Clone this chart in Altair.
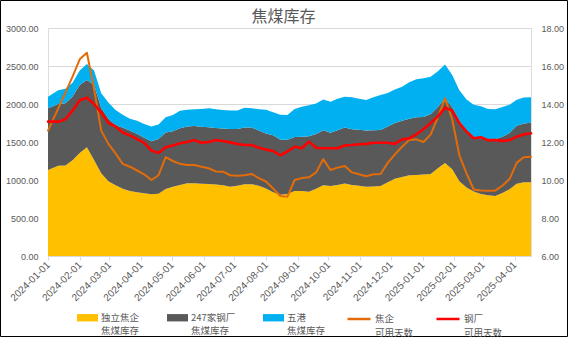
import altair as alt
import pandas as pd

# weekly dates (first point on the axis start, then weekly Thursdays)
dates = ["2024-01-01"] + [d.strftime("%Y-%m-%d") for d in pd.date_range("2024-01-11", "2025-04-17", freq="7D")]

# 独立焦企焦煤库存 (万吨)
coke_inv = [1132, 1188, 1190, 1260, 1355, 1430, 1263, 1090, 985, 930,
            885, 855, 838, 825, 812, 820, 880, 912, 934, 956,
            956, 950, 947, 940, 930, 912, 925, 945, 945, 925,
            888, 840, 805, 815, 855, 855, 846, 885, 930, 921,
            935, 955, 935, 925, 912, 915, 921, 970, 1015, 1040,
            1062, 1066, 1072, 1079, 1155, 1225, 1140, 985, 900, 850,
            815, 800, 790, 830, 878, 950, 970, 972]
# 247家钢厂焦煤库存
steel_inv = [811, 812, 819, 840, 895, 886, 987, 860, 825, 790,
             805, 795, 770, 730, 698, 720, 745, 728, 746, 749,
             755, 750, 746, 745, 748, 758, 745, 745, 745, 725,
             724, 750, 725, 715, 710, 715, 729, 720, 725, 702,
             720, 735, 733, 735, 740, 741, 737, 735, 735, 740,
             743, 759, 758, 791, 805, 845, 820, 795, 740, 720,
             730, 735, 750, 740, 742, 765, 775, 780]
# 五港焦煤库存
port_inv = [153, 180, 191, 180, 190, 209, 190, 190, 210, 200,
            170, 155, 172, 183, 195, 190, 200, 215, 230, 220,
            219, 235, 250, 245, 242, 245, 245, 260, 255, 280,
            313, 300, 330, 325, 370, 395, 410, 400, 403, 407,
            413, 405, 422, 410, 401, 434, 462, 440, 440, 448,
            480, 500, 510, 490, 470, 450, 420, 400, 420, 420,
            425, 400, 392, 390, 370, 340, 340, 338]
# 焦企可用天数
coke_days = [12.6, 13.77, 14.6, 15.44, 16.35, 16.7, 14.8, 12.6, 11.9, 11.4,
             10.85, 10.7, 10.5, 10.3, 10.0, 10.25, 11.2, 11.0, 10.85, 10.79,
             10.79, 10.7, 10.62, 10.45, 10.44, 10.25, 10.23, 10.25, 10.32, 10.1,
             9.92, 9.55, 9.16, 9.12, 10.0, 10.1, 10.14, 10.4, 11.1, 10.53,
             10.65, 10.74, 10.4, 10.3, 10.2, 10.3, 10.32, 10.9, 11.35, 11.75,
             12.1, 12.14, 12.0, 12.4, 13.3, 14.3, 13.2, 11.3, 10.35, 9.5,
             9.45, 9.44, 9.44, 9.7, 10.05, 10.9, 11.2, 11.22]
# 钢厂可用天数
steel_days = [13.07, 13.07, 13.2, 13.65, 14.2, 14.33, 14.0, 13.55, 13.0, 12.82,
              12.5, 12.35, 12.15, 11.95, 11.55, 11.42, 11.72, 11.82, 11.93, 12.0,
              12.1, 11.96, 12.0, 12.1, 12.05, 11.98, 11.9, 11.84, 11.84, 11.7,
              11.6, 11.53, 11.3, 11.5, 11.75, 11.67, 12.02, 11.7, 11.67, 11.67,
              11.67, 11.82, 11.84, 11.88, 11.9, 11.96, 11.96, 11.96, 11.9, 12.14,
              12.19, 12.4, 12.68, 13.0, 13.35, 13.8, 13.65, 13.0, 12.55, 12.2,
              12.25, 12.1, 12.1, 12.06, 12.1, 12.28, 12.4, 12.46]

area_names = ["独立焦企 焦煤库存", "247家钢厂 焦煤库存", "五港 焦煤库存"]
area_colors = ["#FFC000", "#595959", "#00B0F0"]
line_names = ["焦企 可用天数", "钢厂 可用天数"]
line_colors = ["#E36C09", "#FF0000"]

left_ticks = [0, 500, 1000, 1500, 2000, 2500, 3000]
right_ticks = [6, 8, 10, 12, 14, 16, 18]
month_ticks = [d.strftime("%Y-%m-%d") for d in pd.date_range("2024-01-01", "2025-04-01", freq="MS")]

def ms(s):
    return int(pd.Timestamp(s).value // 10**6)

area_rows = []
for i, name in enumerate(area_names):
    vals = [coke_inv, steel_inv, port_inv][i]
    for d, v in zip(dates, vals):
        area_rows.append({"date": d, "series": name, "value": v, "ord": i})
area_df = pd.DataFrame(area_rows)

line_rows = []
for i, name in enumerate(line_names):
    vals = [coke_days, steel_days][i]
    for d, v in zip(dates, vals):
        line_rows.append({"date": d, "series": name, "value": v, "ord": i})
line_df = pd.DataFrame(line_rows)

GREY = "#595959"
LABEL_FONT = "Liberation Sans"
CJK = "Noto Sans CJK SC"

xscale = alt.Scale(type="utc", domain=[ms(dates[0]), ms(dates[-1])])

def xaxis():
    return alt.Axis(values=[ms(t) for t in month_ticks], title=None)

area = alt.Chart(area_df).mark_area(opacity=1).encode(
    x=alt.X("date:T", scale=xscale, axis=xaxis()),
    y=alt.Y("value:Q", stack="zero", scale=alt.Scale(domain=[0, 3000], nice=False),
            axis=alt.Axis(values=left_ticks, format=".2f", grid=True, gridColor="#D9D9D9",
                          domain=False, ticks=False, labelPadding=10, labelFontSize=9,
                          labelFont=LABEL_FONT, labelColor=GREY, title=None)),
    fill=alt.Fill("series:N", scale=alt.Scale(domain=area_names, range=area_colors),
                  legend=alt.Legend(title=None, orient="none", legendX=29, legendY=279,
                                    direction="horizontal",
                                    symbolType="M-1,-0.35L1,-0.35L1,0.35L-1,0.35Z",
                                    symbolSize=441, symbolStrokeWidth=0,
                                    labelExpr="split(datum.label, ' ')",
                                    labelFontSize=9.5, labelFont=CJK, labelColor=GREY,
                                    labelOffset=3, columnPadding=27, labelLimit=200)),
    order=alt.Order("ord:Q"),
)

lines = alt.Chart(line_df).mark_line(strokeCap="round", strokeJoin="round").encode(
    x=alt.X("date:T", scale=xscale, axis=xaxis()),
    y=alt.Y("value:Q", scale=alt.Scale(domain=[6, 18], nice=False),
            axis=alt.Axis(orient="right", values=right_ticks, format=".2f", grid=False,
                          domain=False, ticks=False, labelPadding=10, labelFontSize=9,
                          labelFont=LABEL_FONT, labelColor=GREY, title=None)),
    stroke=alt.Stroke("series:N", scale=alt.Scale(domain=line_names, range=line_colors),
                      legend=alt.Legend(title=None, orient="none", legendX=298, legendY=278,
                                        direction="horizontal", symbolType="stroke",
                                        symbolSize=529, symbolStrokeWidth=2.5,
                                        labelExpr="split(datum.label, ' ')",
                                        labelFontSize=9.5, labelFont=CJK, labelColor=GREY,
                                        labelOffset=3, columnPadding=17, labelLimit=200)),
    strokeWidth=alt.StrokeWidth("series:N", scale=alt.Scale(domain=line_names, range=[2, 2.6]),
                                legend=None),
    order=alt.Order("ord:Q"),
)

border = alt.Chart(pd.DataFrame({"a": [0]})).mark_rect(
    fill="transparent", stroke="#000000", strokeWidth=1
).encode(x=alt.value(-47.5), x2=alt.value(519.5), y=alt.value(-27.5), y2=alt.value(308.5))

chart = alt.layer(area, lines, border).resolve_scale(
    y="independent", fill="independent", stroke="independent"
).properties(
    width=483, height=228,
    padding={"left": 48, "top": 28, "right": 37, "bottom": 81},
    autosize=alt.AutoSizeParams(type="none"),
    title=alt.TitleParams("焦煤库存", fontSize=16, color=GREY, font=CJK, fontWeight="normal",
                          anchor="middle", offset=4, dx=-6, dy=29),
).configure_view(stroke=None).configure(
    background="white",
    style={"guide-label": {"lineHeight": 13.5}},
).configure_axisX(
    format="%Y-%m-%d", formatType="utc",
    labelAngle=-45, labelAlign="right", labelBaseline="middle",
    labelFontSize=10, labelFont=LABEL_FONT, labelColor=GREY,
    labelFlush=False, labelOverlap=False, labelPadding=3,
    tickColor="#D9D9D9", tickSize=4, domainColor="#D9D9D9", grid=False,
)

chart.save("out.html", embed_options={"renderer": "svg", "actions": False})
